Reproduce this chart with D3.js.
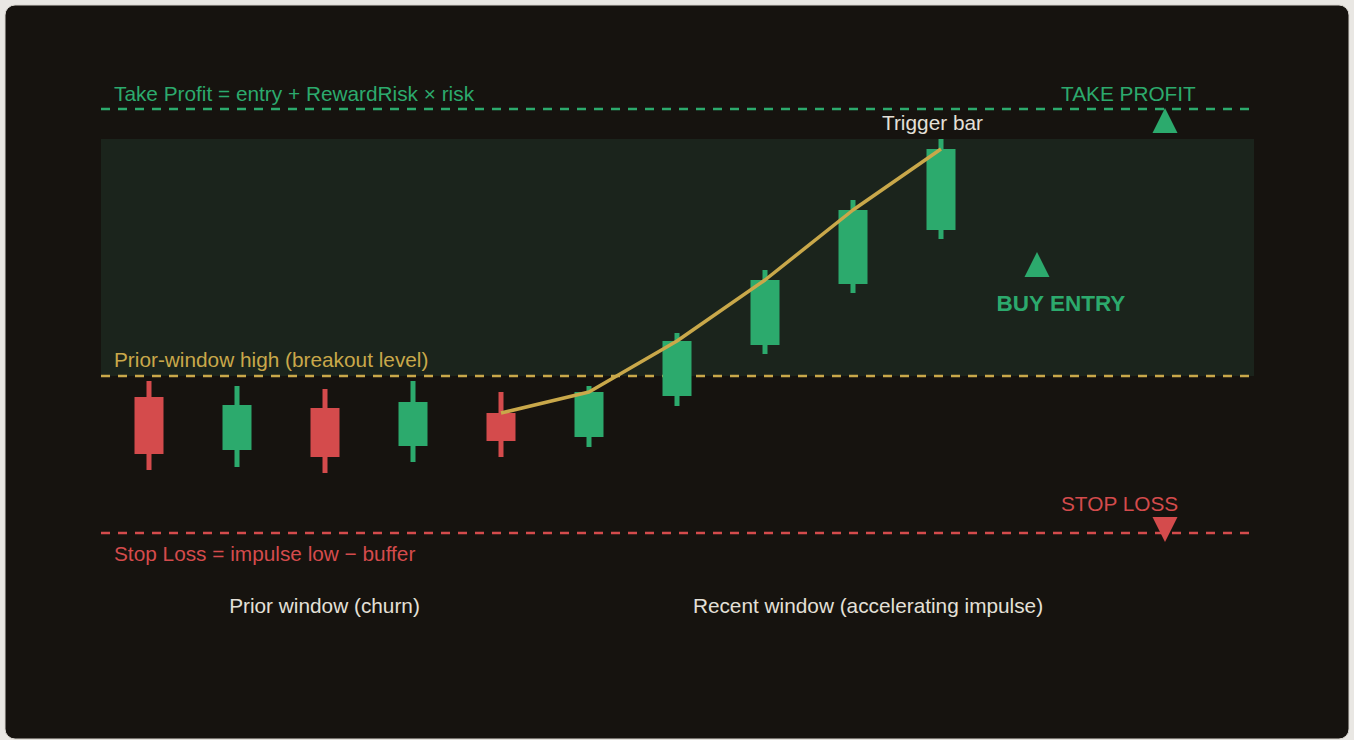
<!DOCTYPE html>
<html>
<head>
<meta charset="utf-8">
<script src="https://cdn.jsdelivr.net/npm/d3@7"></script>
<style>
  html, body { margin: 0; padding: 0; background: #e9e7e3; }
  svg { display: block; }
  text { font-family: "Liberation Sans", Arial, sans-serif; }
</style>
</head>
<body>
<script>
// ---- data ----
const candleIndex = [0, 1, 2, 3, 4, 5, 6, 7, 8, 9];
const opens  = [98.95, 96.30, 98.40, 96.50, 98.15, 96.95, 99.00, 101.55, 104.60, 107.30];
const closes = [96.10, 98.55, 95.95, 98.70, 96.75, 99.20, 101.75, 104.80, 108.30, 111.35];
const highs  = [99.75, 99.50, 99.35, 99.75, 99.20, 99.50, 102.15, 105.30, 108.80, 111.85];
const lows   = [95.30, 95.45, 95.15, 95.70, 95.95, 96.45, 98.50, 101.10, 104.15, 106.85];
const impulseStart = 4; // line starts at last prior-window bar
const breakoutLevel = 100.0;
const takeProfitLevel = 113.35;
const stopLossLevel = 92.15;
const triggerHigh = highs[9];
const labels = {
  tpFormula: "Take Profit = entry + RewardRisk × risk",
  tp: "TAKE PROFIT",
  breakout: "Prior-window high (breakout level)",
  slFormula: "Stop Loss = impulse low − buffer",
  sl: "STOP LOSS",
  buy: "BUY ENTRY",
  trigger: "Trigger bar",
  prior: "Prior window (churn)",
  recent: "Recent window (accelerating impulse)"
};

// ---- layout ----
const W = 1354, H = 740;
const GREEN = "#2caa6d", RED = "#d44b4c", GOLD = "#c9a84a", TEXT = "#e4e0d8";
const BG = "#16130f", ZONE = "#1b241c";
const plotLeft = 101, plotRight = 1254;

const svg = d3.select("body").append("svg").attr("width", W).attr("height", H);
svg.append("rect").attr("x", 5).attr("y", 5).attr("width", W - 10).attr("height", H - 6)
  .attr("rx", 10).attr("fill", BG).attr("stroke", "#d8d5cf").attr("stroke-width", 1);

const x = d3.scaleLinear().domain([0, 9]).range([149, 941]);
const y = d3.scaleLinear().domain([100, 110]).range([376, 176]);

// breakout zone
svg.append("rect")
  .attr("x", plotLeft).attr("width", plotRight - plotLeft)
  .attr("y", y(triggerHigh)).attr("height", y(breakoutLevel) - y(triggerHigh))
  .attr("fill", ZONE);

// level lines
function level(v, color) {
  svg.append("line").attr("x1", plotLeft).attr("x2", plotRight)
    .attr("y1", Math.round(y(v))).attr("y2", Math.round(y(v)))
    .attr("stroke", color).attr("stroke-width", 2.5).attr("stroke-dasharray", "9,8");
}
level(takeProfitLevel, GREEN);
level(breakoutLevel, GOLD);
level(stopLossLevel, RED);

// candles
const candles = candleIndex.map(i => ({i, o: opens[i], c: closes[i], h: highs[i], l: lows[i]}));
const bodyW = 29, wickW = 5;
const g = svg.append("g");
g.selectAll(".wick").data(candles).join("rect")
  .attr("x", d => x(d.i) - wickW / 2).attr("width", wickW)
  .attr("y", d => y(d.h)).attr("height", d => y(d.l) - y(d.h))
  .attr("fill", d => d.c >= d.o ? GREEN : RED);
g.selectAll(".body").data(candles).join("rect")
  .attr("x", d => x(d.i) - bodyW / 2).attr("width", bodyW)
  .attr("y", d => y(Math.max(d.o, d.c))).attr("height", d => Math.abs(y(d.o) - y(d.c)))
  .attr("fill", d => d.c >= d.o ? GREEN : RED);

// impulse line
const linePts = candles.filter(d => d.i >= impulseStart).map(d => [x(d.i), y(Math.max(d.o, d.c))]);
svg.append("path").attr("d", d3.line()(linePts))
  .attr("fill", "none").attr("stroke", GOLD).attr("stroke-width", 3.5).attr("stroke-linejoin", "round");

// markers (apex at given point, 25 wide, 25 tall)
function triangle(cx, apexY, color, down) {
  const h = down ? -25 : 25;
  const pts = [[cx, apexY], [cx - 12.5, apexY + h], [cx + 12.5, apexY + h]];
  svg.append("path").attr("d", d3.line()(pts) + "Z").attr("fill", color);
}
triangle(1165, 108, GREEN, false);
triangle(1165, 542, RED, true);
triangle(1037, 252, GREEN, false);

// texts
function txt(s, tx, ty, color, opts = {}) {
  svg.append("text").attr("x", tx).attr("y", ty).text(s)
    .attr("fill", color).attr("font-size", opts.size || 20.8)
    .attr("font-weight", opts.weight || "normal")
    .attr("text-anchor", opts.anchor || "start");
}
txt(labels.tpFormula, 114, 101, GREEN);
txt(labels.tp, 1061, 101, GREEN);
txt(labels.breakout, 114, 367, GOLD);
txt(labels.slFormula, 114, 561, RED);
txt(labels.sl, 1061, 511, RED);
txt(labels.buy, 1061, 311, GREEN, {anchor: "middle", weight: "bold", size: 22.5});
txt(labels.trigger, 932.5, 130, TEXT, {anchor: "middle"});
txt(labels.prior, 324.5, 613, TEXT, {anchor: "middle"});
txt(labels.recent, 868, 613, TEXT, {anchor: "middle"});
</script>
</body>
</html>
